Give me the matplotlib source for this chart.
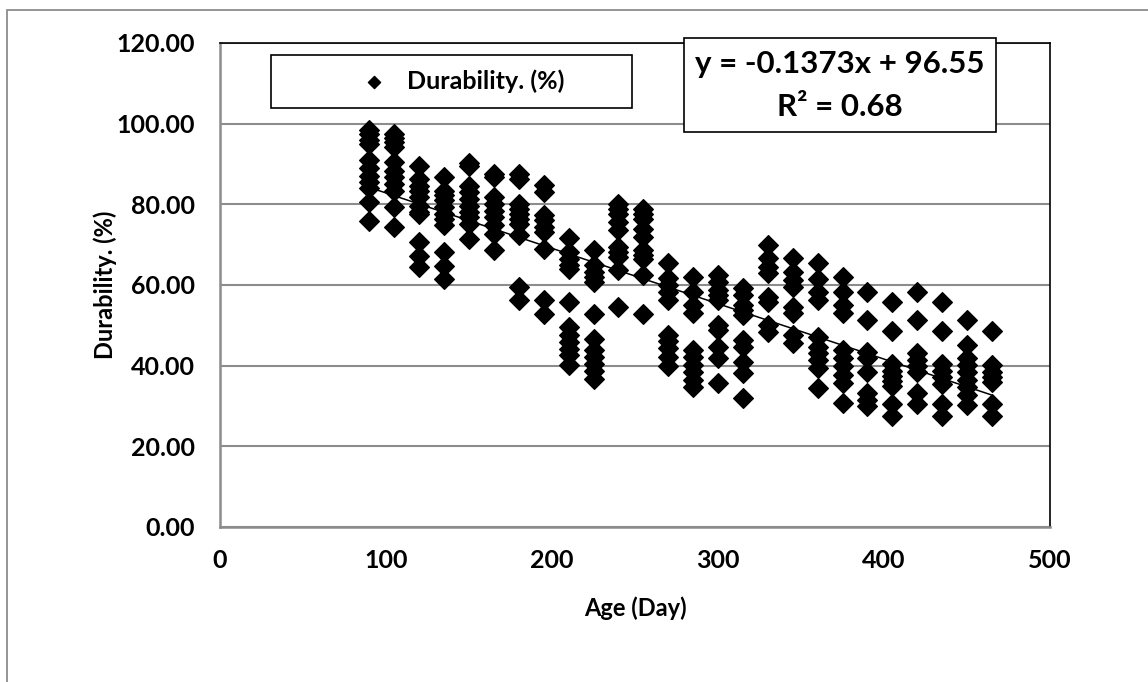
import matplotlib.pyplot as plt
import matplotlib.patches as patches
import numpy as np

plt.rcParams['font.family'] = ['Lato', 'DejaVu Sans']

ages = [90, 105, 120, 135, 150, 165, 180, 195, 210, 225, 240, 255, 270,
        285, 300, 315, 330, 345, 360, 375, 390, 405, 420, 435, 450, 465]

durability = [
    [98.5, 97.5, 96.0, 95.0, 91.0, 89.0, 87.0, 85.5, 84.0, 80.5, 75.8],
    [97.4, 96.4, 95.4, 94.1, 90.4, 88.3, 86.7, 85.0, 83.4, 79.3, 74.4],
    [89.6, 86.3, 84.6, 83.4, 81.9, 79.7, 78.0, 77.6, 70.6, 67.3, 64.4],
    [86.9, 83.4, 82.2, 81.0, 79.3, 77.6, 76.4, 74.8, 68.1, 64.8, 61.5],
    [90.2, 89.6, 84.6, 83.0, 81.3, 79.7, 78.0, 76.8, 75.1, 71.4],
    [87.4, 86.8, 81.9, 80.1, 78.4, 76.8, 74.8, 72.7, 68.7],
    [87.6, 86.4, 80.2, 78.9, 77.7, 76.4, 75.2, 72.3, 59.5, 56.2],
    [84.7, 83.1, 77.3, 76.0, 74.5, 73.1, 69.0, 56.2, 52.9],
    [71.7, 68.2, 66.5, 64.9, 64.0, 55.8, 49.6, 47.5, 45.9, 44.2, 42.6, 40.1],
    [68.6, 64.9, 63.2, 62.0, 60.7, 52.9, 46.7, 43.8, 42.1, 40.5, 38.8, 36.8],
    [80.2, 78.9, 77.7, 75.6, 73.6, 69.4, 68.2, 66.9, 63.6, 54.5],
    [78.9, 77.7, 76.4, 74.0, 71.9, 68.6, 67.4, 66.5, 62.4, 52.9],
    [65.4, 61.7, 60.0, 58.3, 56.3, 47.6, 46.0, 44.3, 42.2, 39.8],
    [62.1, 58.3, 55.0, 53.0, 43.9, 42.2, 40.2, 38.5, 36.4, 34.8],
    [62.5, 60.8, 58.8, 57.5, 56.3, 50.1, 48.8, 44.7, 41.8, 35.6],
    [59.2, 57.5, 55.0, 53.8, 52.6, 46.4, 44.7, 41.0, 38.1, 31.9],
    [69.9, 66.6, 64.5, 62.9, 57.1, 55.9, 50.1, 48.4],
    [66.6, 63.3, 61.2, 59.6, 54.6, 53.0, 47.6, 45.5],
    [65.4, 61.4, 58.3, 56.3, 47.2, 44.7, 43.1, 41.4, 39.4, 34.4],
    [62.1, 58.3, 55.0, 53.0, 43.9, 41.8, 39.8, 37.7, 35.6, 30.8],
    [58.3, 51.2, 43.5, 41.8, 38.5, 33.1, 31.5, 30.0],
    [55.9, 48.7, 40.4, 38.8, 37.5, 36.3, 35.0, 30.5, 27.6],
    [58.3, 51.2, 43.1, 41.4, 39.8, 38.5, 33.1, 30.6],
    [55.9, 48.7, 40.4, 38.8, 37.1, 35.5, 30.5, 27.6],
    [51.2, 45.1, 41.8, 40.2, 38.5, 36.4, 34.8, 32.7, 30.2],
    [48.7, 40.2, 38.5, 37.3, 36.0, 30.6, 27.6],
]

slope = -0.1373
intercept = 96.55
r2 = 0.68

x = np.concatenate([[a] * len(d) for a, d in zip(ages, durability)])
y = np.concatenate(durability)

fig = plt.figure(figsize=(11.48, 6.82), dpi=100)
ax = fig.add_axes([220 / 1148, 1 - 527 / 682, 830 / 1148, 484 / 682])

# outer chart frame (cut off at right and bottom like the reference)
fig.patches.append(patches.Rectangle((7 / 1148, -0.1), 1.2, 1 - 10 / 682 + 0.1,
                                     transform=fig.transFigure, fill=False,
                                     edgecolor='#8c8c8c', linewidth=1.3))

ax.set_axisbelow(True)
ax.grid(axis='y', color='#8c8c8c', linewidth=1.5)
ax.scatter(x, y, marker='D', s=100, color='black', zorder=3, label='Durability. (%)')

xs = np.array([min(ages), max(ages)])
ax.plot(xs, slope * xs + intercept, color='black', linewidth=1.1, zorder=4)

ax.set_xlim(0, 500)
ax.set_ylim(0, 120)
ax.set_xticks(range(0, 501, 100))
ax.set_yticks(range(0, 121, 20))
ax.set_yticklabels([f'{v:.2f}' for v in range(0, 121, 20)])
ax.tick_params(length=0, labelsize=18)
ax.tick_params(axis='y', pad=18)
ax.tick_params(axis='x', pad=16)
for lbl in ax.get_xticklabels() + ax.get_yticklabels():
    lbl.set_fontweight('bold')

for side in ['left', 'bottom']:
    ax.spines[side].set_color('#8c8c8c')
    ax.spines[side].set_linewidth(1.8)
for side in ['top', 'right']:
    ax.spines[side].set_color('black')
    ax.spines[side].set_linewidth(1.2)

ax.set_xlabel('Age (Day)', fontsize=17, fontweight='bold')
ax.set_ylabel('Durability. (%)', fontsize=17, fontweight='bold')
ax.xaxis.set_label_coords(0.5, -0.143)
ax.yaxis.set_label_coords(-0.124, 0.5)

# legend box drawn separately so it can be as wide as in the original
ax.add_patch(patches.Rectangle((0.0614, 0.8657), 0.435, 0.1093,
                               transform=ax.transAxes, fill=False,
                               edgecolor='black', linewidth=1.2, zorder=5))
ax.legend(loc='center left', bbox_to_anchor=(0.170, 0.9215), frameon=False,
          prop={'weight': 'bold', 'size': 18}, markerscale=0.62,
          handlelength=1.0, handletextpad=0.85, borderpad=0,
          borderaxespad=0, scatterpoints=1)

ax.text(0.747, 0.913, f'y = {slope}x + {intercept}\nR² = {r2:.2f}',
        transform=ax.transAxes, ha='center', va='center', fontsize=22.5,
        fontweight='bold', linespacing=1.65, zorder=6,
        bbox=dict(boxstyle='square,pad=0.36', facecolor='white',
                  edgecolor='black', linewidth=1.2))

fig.savefig('out.png', dpi=100)
